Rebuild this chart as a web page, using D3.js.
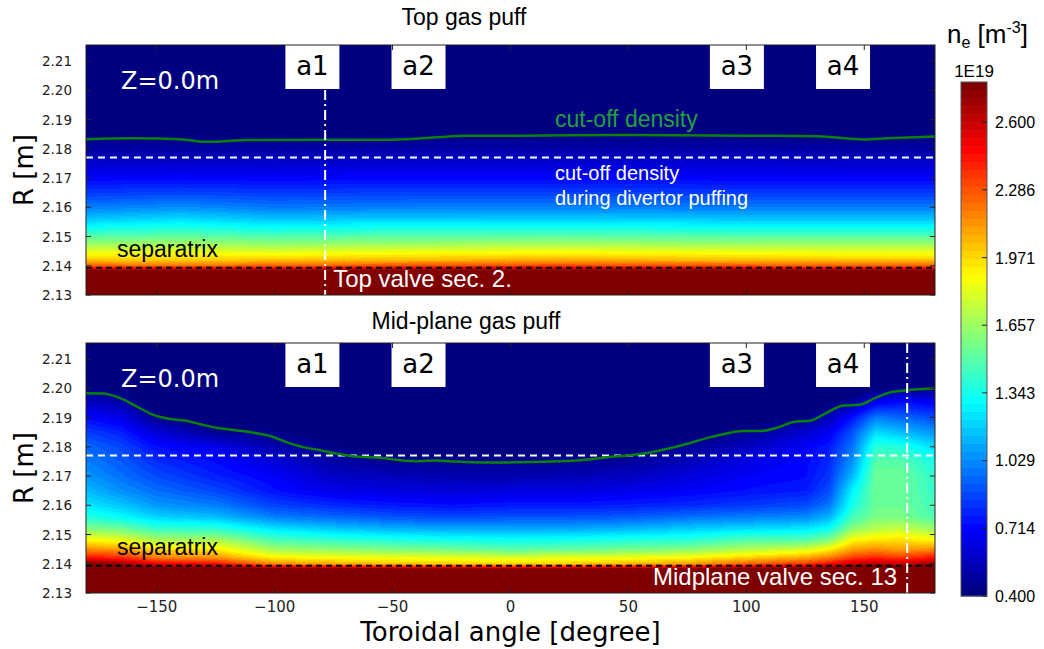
<!DOCTYPE html>
<html>
<head>
<meta charset="utf-8">
<script src="https://cdn.jsdelivr.net/npm/d3@7"></script>
<style>
  body { margin: 0; background: #fff; }
  svg { display: block; }
</style>
</head>
<body>
<div id="chart"></div>
<script>

// radial positions (R, m) at which the density profiles were read
const rGrid = [2.130, 2.138, 2.139, 2.140, 2.142, 2.145, 2.148, 2.152, 2.156, 2.160,
               2.165, 2.170, 2.175, 2.180, 2.185, 2.190, 2.195, 2.200, 2.2155];

// top gas puff: one profile (1E19 m^-3, along rGrid) per toroidal angle
const topAngles = [-180, -140, -100, -60, -20, 20, 60, 100, 140, 180];
const topDensity = [
  [3.0, 2.95, 2.55, 2.25, 2.02, 1.82, 1.62, 1.38, 1.17, 1.00, 0.84, 0.71, 0.60, 0.50, 0.42, 0.36, 0.33, 0.30, 0.30],
  [3.0, 2.95, 2.55, 2.22, 2.00, 1.82, 1.64, 1.42, 1.22, 1.04, 0.86, 0.72, 0.60, 0.49, 0.42, 0.36, 0.33, 0.30, 0.30],
  [3.0, 2.95, 2.55, 2.25, 2.02, 1.80, 1.60, 1.37, 1.16, 0.99, 0.84, 0.71, 0.60, 0.50, 0.42, 0.36, 0.33, 0.30, 0.30],
  [3.0, 2.95, 2.58, 2.28, 2.04, 1.83, 1.62, 1.39, 1.18, 1.00, 0.85, 0.72, 0.61, 0.51, 0.43, 0.36, 0.33, 0.30, 0.30],
  [3.0, 2.95, 2.60, 2.30, 2.05, 1.84, 1.63, 1.40, 1.18, 1.01, 0.85, 0.72, 0.61, 0.51, 0.43, 0.37, 0.33, 0.30, 0.30],
  [3.0, 2.95, 2.62, 2.32, 2.08, 1.85, 1.64, 1.40, 1.19, 1.01, 0.85, 0.72, 0.61, 0.51, 0.43, 0.37, 0.33, 0.30, 0.30],
  [3.0, 2.95, 2.60, 2.30, 2.05, 1.84, 1.63, 1.39, 1.18, 1.00, 0.85, 0.72, 0.61, 0.51, 0.43, 0.37, 0.33, 0.30, 0.30],
  [3.0, 2.95, 2.58, 2.28, 2.04, 1.83, 1.62, 1.38, 1.17, 1.00, 0.84, 0.71, 0.61, 0.51, 0.43, 0.37, 0.33, 0.30, 0.30],
  [3.0, 2.95, 2.55, 2.25, 2.02, 1.82, 1.62, 1.38, 1.17, 1.00, 0.84, 0.71, 0.60, 0.50, 0.42, 0.36, 0.33, 0.30, 0.30],
  [3.0, 2.95, 2.55, 2.25, 2.02, 1.82, 1.62, 1.38, 1.17, 1.00, 0.84, 0.71, 0.60, 0.50, 0.42, 0.36, 0.33, 0.30, 0.30]
];

// mid-plane gas puff
const midAngles = [-180, -165, -150, -125, -100, -75, -50, -25, 0, 25, 50, 75, 100, 125, 135, 145, 155, 165, 180];
const midDensity = [
  [3.0, 3.00, 2.90, 2.80, 2.45, 2.15, 1.90, 1.60, 1.38, 1.25, 1.14, 1.06, 1.00, 0.95, 0.85, 0.72, 0.58, 0.42, 0.30],
  [3.0, 3.00, 2.85, 2.70, 2.40, 2.10, 1.85, 1.55, 1.30, 1.17, 1.04, 0.97, 0.92, 0.87, 0.78, 0.66, 0.52, 0.40, 0.30],
  [3.0, 2.95, 2.70, 2.50, 2.20, 1.95, 1.70, 1.42, 1.20, 1.06, 0.96, 0.88, 0.81, 0.74, 0.62, 0.45, 0.36, 0.32, 0.30],
  [3.0, 2.95, 2.70, 2.45, 2.15, 1.92, 1.70, 1.40, 1.15, 1.00, 0.87, 0.78, 0.73, 0.66, 0.46, 0.36, 0.32, 0.30, 0.30],
  [3.0, 2.90, 2.50, 2.15, 1.92, 1.66, 1.48, 1.24, 1.00, 0.86, 0.74, 0.70, 0.62, 0.52, 0.44, 0.36, 0.32, 0.30, 0.30],
  [3.0, 2.90, 2.45, 2.08, 1.88, 1.62, 1.42, 1.17, 0.95, 0.80, 0.66, 0.58, 0.50, 0.44, 0.38, 0.33, 0.30, 0.30, 0.30],
  [3.0, 2.90, 2.40, 2.02, 1.86, 1.58, 1.38, 1.12, 0.90, 0.76, 0.64, 0.55, 0.46, 0.40, 0.36, 0.33, 0.30, 0.30, 0.30],
  [3.0, 2.90, 2.40, 2.00, 1.84, 1.55, 1.35, 1.10, 0.88, 0.74, 0.62, 0.53, 0.45, 0.39, 0.35, 0.32, 0.30, 0.30, 0.30],
  [3.0, 2.90, 2.35, 1.98, 1.82, 1.50, 1.33, 1.10, 0.90, 0.76, 0.64, 0.53, 0.45, 0.39, 0.35, 0.32, 0.30, 0.30, 0.30],
  [3.0, 2.90, 2.38, 2.00, 1.84, 1.52, 1.35, 1.10, 0.90, 0.76, 0.64, 0.54, 0.46, 0.40, 0.35, 0.32, 0.30, 0.30, 0.30],
  [3.0, 2.90, 2.42, 2.05, 1.86, 1.56, 1.38, 1.13, 0.92, 0.78, 0.66, 0.57, 0.48, 0.41, 0.36, 0.32, 0.30, 0.30, 0.30],
  [3.0, 2.90, 2.45, 2.10, 1.90, 1.60, 1.40, 1.18, 0.97, 0.80, 0.70, 0.63, 0.55, 0.47, 0.40, 0.34, 0.30, 0.30, 0.30],
  [3.0, 2.95, 2.55, 2.25, 2.00, 1.70, 1.50, 1.22, 1.00, 0.84, 0.74, 0.70, 0.65, 0.56, 0.46, 0.36, 0.32, 0.30, 0.30],
  [3.0, 2.95, 2.60, 2.35, 2.10, 1.78, 1.50, 1.25, 1.03, 0.88, 0.77, 0.73, 0.72, 0.70, 0.60, 0.43, 0.34, 0.30, 0.30],
  [3.0, 3.00, 2.70, 2.45, 2.20, 1.90, 1.60, 1.32, 1.12, 0.98, 0.88, 0.83, 0.80, 0.76, 0.68, 0.55, 0.40, 0.32, 0.30],
  [3.0, 3.00, 2.80, 2.60, 2.35, 2.10, 1.90, 1.62, 1.45, 1.35, 1.28, 1.14, 1.05, 0.98, 0.90, 0.75, 0.50, 0.34, 0.30],
  [3.0, 3.00, 2.85, 2.65, 2.40, 2.15, 1.95, 1.72, 1.58, 1.55, 1.55, 1.55, 1.50, 1.40, 1.22, 1.00, 0.70, 0.40, 0.30],
  [3.0, 3.00, 2.80, 2.60, 2.35, 2.10, 1.97, 1.75, 1.58, 1.55, 1.55, 1.55, 1.50, 1.38, 1.15, 0.95, 0.75, 0.45, 0.30],
  [3.0, 3.00, 2.85, 2.70, 2.45, 2.15, 1.90, 1.65, 1.48, 1.45, 1.42, 1.40, 1.35, 1.22, 1.05, 0.88, 0.70, 0.42, 0.30]
];

// cut-off density contour (green line)
const topCutoffAngles = [-180, -160, -140, -130, -110, -80, -50, -30, -20, 0, 50, 100, 130, 150, 160, 180];
const topCutoffR      = [2.1833, 2.1836, 2.1833, 2.1824, 2.1830, 2.1831, 2.1831, 2.1840, 2.1845, 2.1845, 2.1847, 2.1845, 2.1843, 2.1832, 2.1836, 2.1842];
const midCutoffAngles = [-180, -173, -166, -159, -152, -145, -138, -131, -124, -116, -109, -102, -95, -88, -81, -74, -67, -53, -46, -39, -32, -25, -10,
                         2, 14, 28, 42, 56, 71, 85, 99, 106, 113, 120, 127, 134, 141, 148, 155, 162, 169, 180];
const midCutoffR      = [2.1983, 2.1982, 2.1968, 2.1940, 2.1911, 2.1896, 2.1890, 2.1876, 2.1864, 2.1856, 2.1848, 2.1837, 2.1816, 2.1799, 2.1789, 2.1777, 2.1768, 2.1761, 2.1753, 2.1751, 2.1753, 2.1750, 2.1746,
                         2.1747, 2.1749, 2.1753, 2.1765, 2.1776, 2.1802, 2.1833, 2.1854, 2.1854, 2.1865, 2.1885, 2.1889, 2.1916, 2.1941, 2.1944, 2.1968, 2.1988, 2.1994, 2.1999];

const divertorCutoffR = 2.177;
const separatrixR = 2.1393;
const sectorLabels = ["a1", "a2", "a3", "a4"];
const sectorAngles = [-84, -39, 96, 141];

const xTicks = [-150, -100, -50, 0, 50, 100, 150];
const yTicks = [2.13, 2.14, 2.15, 2.16, 2.17, 2.18, 2.19, 2.20, 2.21];
const cbarTicks = [0.400, 0.714, 1.029, 1.343, 1.657, 1.971, 2.286, 2.600];
const cbarMin = 0.4, cbarMax = 2.786;

const width = 1044, height = 649;
const left = 86, right = 935;
const panelH = 250;
const sans = "'Liberation Sans', Arial, sans-serif";
const dejavu = "'DejaVu Sans', sans-serif";

const svg = d3.select("#chart").append("svg")
  .attr("width", width)
  .attr("height", height);

// jet colormap, cut into 64 levels like the colorbar
function jet(t) {
  t = Math.max(0, Math.min(1, t));
  let lvl = Math.min(63, Math.floor(t * 64)) / 63;
  let c = v => Math.round(255 * Math.max(0, Math.min(1, v)));
  return [c(1.5 - Math.abs(4 * lvl - 3)), c(1.5 - Math.abs(4 * lvl - 2)), c(1.5 - Math.abs(4 * lvl - 1))];
}
const norm = d3.scaleLinear().domain([cbarMin, cbarMax]).clamp(true);

let x = d3.scaleLinear().domain([-180, 180]).range([0, right - left]);
let y = d3.scaleLinear().domain([2.13, 2.2155]).range([panelH, 0]);

function bisect(arr, v) {
  let i = d3.bisectRight(arr, v) - 1;
  return Math.max(0, Math.min(arr.length - 2, i));
}

function lookup(angles, dens, a, r) {
  let i = bisect(angles, a), j = bisect(rGrid, r);
  let fa = Math.max(0, Math.min(1, (a - angles[i]) / (angles[i + 1] - angles[i])));
  let fr = Math.max(0, Math.min(1, (r - rGrid[j]) / (rGrid[j + 1] - rGrid[j])));
  let v0 = dens[i][j] * (1 - fr) + dens[i][j + 1] * fr;
  let v1 = dens[i + 1][j] * (1 - fr) + dens[i + 1][j + 1] * fr;
  return v0 * (1 - fa) + v1 * fa;
}

function densityImage(angles, dens) {
  let w = right - left;
  let canvas = document.createElement("canvas");
  canvas.width = w;
  canvas.height = panelH;
  let ctx = canvas.getContext("2d");
  let img = ctx.createImageData(w, panelH);
  for (let py = 0; py < panelH; py++) {
    let r = y.invert(py + 0.5);
    for (let px = 0; px < w; px++) {
      let a = x.invert(px + 0.5);
      let col = jet(norm(lookup(angles, dens, a, r)));
      let k = (py * w + px) * 4;
      img.data[k] = col[0];
      img.data[k + 1] = col[1];
      img.data[k + 2] = col[2];
      img.data[k + 3] = 255;
    }
  }
  ctx.putImageData(img, 0, 0);
  return canvas.toDataURL();
}

const panels = [
  {top: 45, title: "Top gas puff", titleX: 464, titleY: 25, angles: topAngles, dens: topDensity,
   cutA: topCutoffAngles, cutR: topCutoffR, valveAngle: -78.6, valveFromBox: true,
   valveText: "Top valve sec. 2.", valveAnchor: "start", valveDx: 8, xLabels: false},
  {top: 343, title: "Mid-plane gas puff", titleX: 466, titleY: 329, angles: midAngles, dens: midDensity,
   cutA: midCutoffAngles, cutR: midCutoffR, valveAngle: 168.2, valveFromBox: false,
   valveText: "Midplane valve sec. 13", valveAnchor: "end", valveDx: -10, xLabels: true}
];

panels.forEach(p => {
  svg.append("text")
    .attr("x", p.titleX)
    .attr("y", p.titleY)
    .attr("text-anchor", "middle")
    .style("font-family", sans)
    .style("font-size", "23px")
    .text(p.title);

  let g = svg.append("g").attr("transform", "translate(" + left + "," + p.top + ")");

  g.append("image")
    .attr("width", right - left)
    .attr("height", panelH)
    .attr("preserveAspectRatio", "none")
    .attr("href", densityImage(p.angles, p.dens));

  // separatrix and divertor cut-off reference lines
  g.append("line")
    .attr("x1", 0).attr("x2", right - left)
    .attr("y1", y(separatrixR)).attr("y2", y(separatrixR))
    .attr("stroke", "#000").attr("stroke-width", 2)
    .attr("stroke-dasharray", "6,4");
  g.append("line")
    .attr("x1", 0).attr("x2", right - left)
    .attr("y1", y(divertorCutoffR)).attr("y2", y(divertorCutoffR))
    .attr("stroke", "#fff").attr("stroke-width", 2)
    .attr("stroke-dasharray", "7,5");

  // cut-off contour
  let line = d3.line()
    .x((d, i) => x(p.cutA[i]))
    .y(d => y(d))
    .curve(d3.curveMonotoneX);
  g.append("path")
    .datum(p.cutR)
    .attr("d", line)
    .attr("fill", "none")
    .attr("stroke", "#0a820a")
    .attr("stroke-width", 2.5);

  // sector boxes
  sectorLabels.forEach((lab, i) => {
    g.append("rect")
      .attr("x", x(sectorAngles[i]) - 27)
      .attr("y", 0)
      .attr("width", 54)
      .attr("height", 44)
      .attr("fill", "#fff");
    g.append("text")
      .attr("x", x(sectorAngles[i]))
      .attr("y", 30)
      .attr("text-anchor", "middle")
      .style("font-family", dejavu)
      .style("font-size", "26px")
      .text(lab);
  });

  // valve position
  g.append("line")
    .attr("x1", x(p.valveAngle)).attr("x2", x(p.valveAngle))
    .attr("y1", p.valveFromBox ? 45 : 0).attr("y2", panelH)
    .attr("stroke", "#fff").attr("stroke-width", 2)
    .attr("stroke-dasharray", "10,4,2,4");
  g.append("text")
    .attr("x", x(p.valveAngle) + p.valveDx)
    .attr("y", panelH - 8)
    .attr("text-anchor", p.valveAnchor)
    .attr("fill", "#fff")
    .style("font-family", sans)
    .style("font-size", "24px")
    .text(p.valveText);

  g.append("text")
    .attr("x", 35)
    .attr("y", 44)
    .attr("fill", "#fff")
    .style("font-family", dejavu)
    .style("font-size", "24px")
    .text("Z=0.0m");

  g.append("text")
    .attr("x", 31)
    .attr("y", panelH - 38)
    .style("font-family", sans)
    .style("font-size", "23px")
    .text("separatrix");

  // axes, ticks pointing inward
  let tickLen = 5;
  let ax = g.append("g");
  ax.append("rect")
    .attr("width", right - left).attr("height", panelH)
    .attr("fill", "none").attr("stroke", "#222").attr("stroke-width", 1);
  xTicks.forEach(t => {
    ax.append("line").attr("x1", x(t)).attr("x2", x(t)).attr("y1", panelH).attr("y2", panelH - tickLen).attr("stroke", "#222");
    ax.append("line").attr("x1", x(t)).attr("x2", x(t)).attr("y1", 0).attr("y2", tickLen).attr("stroke", "#222");
    if (p.xLabels) {
      ax.append("text")
        .attr("x", x(t)).attr("y", panelH + 19)
        .attr("text-anchor", "middle")
        .style("font-family", dejavu).style("font-size", "15px")
        .attr("fill", "#222")
        .text(d3.format("")(t));
    }
  });
  yTicks.forEach(t => {
    ax.append("line").attr("x1", 0).attr("x2", tickLen).attr("y1", y(t)).attr("y2", y(t)).attr("stroke", "#222");
    ax.append("line").attr("x1", right - left).attr("x2", right - left - tickLen).attr("y1", y(t)).attr("y2", y(t)).attr("stroke", "#222");
    ax.append("text")
      .attr("x", -14).attr("y", y(t) + 5)
      .attr("text-anchor", "end")
      .style("font-family", dejavu).style("font-size", "13.5px")
      .attr("fill", "#222")
      .text(d3.format(".2f")(t));
  });

  svg.append("text")
    .attr("transform", "translate(33," + (p.top + panelH / 2) + ") rotate(-90)")
    .attr("text-anchor", "middle")
    .style("font-family", dejavu)
    .style("font-size", "26px")
    .text("R [m]");
});

// annotations on the top panel
let gTop = svg.append("g").attr("transform", "translate(" + left + ",45)");
gTop.append("text")
  .attr("x", 469).attr("y", 82)
  .attr("fill", "#22a03c")
  .style("font-family", sans).style("font-size", "23px")
  .text("cut-off density");
gTop.append("text")
  .attr("x", 469).attr("y", 135)
  .attr("fill", "#fff")
  .style("font-family", sans).style("font-size", "20px")
  .text("cut-off density");
gTop.append("text")
  .attr("x", 469).attr("y", 160)
  .attr("fill", "#fff")
  .style("font-family", sans).style("font-size", "20px")
  .text("during divertor puffing");

svg.append("text")
  .attr("x", (left + right) / 2)
  .attr("y", 641)
  .attr("text-anchor", "middle")
  .style("font-family", dejavu)
  .style("font-size", "26px")
  .text("Toroidal angle [degree]");

// colorbar
const cbX = 961, cbW = 26, cbTop = 82, cbBottom = 596;
let cy = d3.scaleLinear().domain([cbarMin, cbarMax]).range([cbBottom, cbTop]);
let levels = d3.range(64);
svg.append("g").selectAll("rect")
  .data(levels)
  .enter().append("rect")
  .attr("x", cbX)
  .attr("y", d => cy(cbarMin + (d + 1) / 64 * (cbarMax - cbarMin)))
  .attr("width", cbW)
  .attr("height", d => cy(cbarMin + d / 64 * (cbarMax - cbarMin)) - cy(cbarMin + (d + 1) / 64 * (cbarMax - cbarMin)) + 0.5)
  .attr("fill", d => { let c = jet((d + 0.5) / 64); return "rgb(" + c.join(",") + ")"; });
svg.append("rect")
  .attr("x", cbX).attr("y", cbTop).attr("width", cbW).attr("height", cbBottom - cbTop)
  .attr("fill", "none").attr("stroke", "#555").attr("stroke-width", 1);
cbarTicks.forEach(t => {
  svg.append("line")
    .attr("x1", cbX + cbW).attr("x2", cbX + cbW - 5)
    .attr("y1", cy(t)).attr("y2", cy(t))
    .attr("stroke", "#222");
  svg.append("text")
    .attr("x", cbX + 34).attr("y", cy(t) + 6)
    .style("font-family", sans).style("font-size", "16px")
    .text(d3.format(".3f")(t));
});
svg.append("text")
  .attr("x", cbX + cbW / 2).attr("y", 77)
  .attr("text-anchor", "middle")
  .style("font-family", sans).style("font-size", "17px")
  .text("1E19");

let cbTitle = svg.append("text")
  .attr("x", 947).attr("y", 43)
  .style("font-family", sans).style("font-size", "26px");
cbTitle.append("tspan").text("n");
cbTitle.append("tspan").attr("dy", 5).style("font-size", "16px").text("e");
cbTitle.append("tspan").attr("dy", -5).text(" [m");
cbTitle.append("tspan").attr("dy", -10).style("font-size", "16px").text("-3");
cbTitle.append("tspan").attr("dy", 10).text("]");

</script>
</body>
</html>
